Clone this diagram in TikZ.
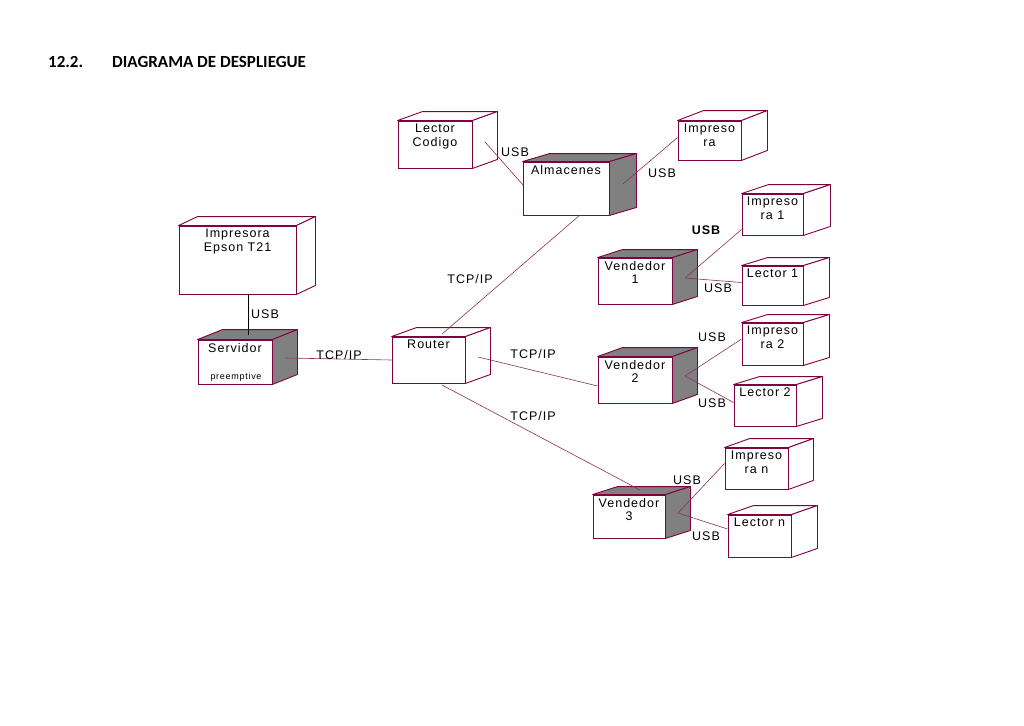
\documentclass[tikz,border=0pt]{standalone}
\usepackage{fontspec}
\setmainfont{Liberation Sans}
\newfontfamily\hdfont{Carlito}
\newfontfamily\spfont[LetterSpace=8]{Liberation Sans}
\usetikzlibrary{calc}
\definecolor{edgec}{HTML}{800040}
\definecolor{linec}{HTML}{8A3060}
\definecolor{sidec}{HTML}{808080}
\tikzset{
  depbox/.style={draw=edgec, line width=0.9pt, fill=white, inner sep=0pt},
  depface/.style={draw=edgec, line width=0.9pt, line join=round},
  deptext/.style={font=\spfont\fontsize{12.5}{13.5}\selectfont, align=center, inner sep=0pt},
  conn/.style={draw=linec, line width=0.6pt},
  clabel/.style={font=\spfont\fontsize{12.5}{13.5}\selectfont, inner sep=0pt},
}
% #1 name, #2 x1, #3 y1, #4 x2, #5 y2, #6 dx, #7 dy, #8 face fill, #9 text
\newcommand\depnode[9]{%
  \node[depbox, minimum width={#4-#2}, minimum height={#5-#3}] (#1) at ({(#2+#4)/2},{(#3+#5)/2}) {};
  \draw[depface, fill=#8] (#1.north west) -- ++(#6,#7) -- ([shift={(#6,#7)}]#1.north east) -- (#1.north east) -- cycle;
  \draw[depface, fill=#8] (#1.north east) -- ([shift={(#6,#7)}]#1.north east) -- ([shift={(#6,#7)}]#1.south east) -- (#1.south east) -- cycle;
  \node[deptext, anchor=north] (#1-t) at ([yshift=-3.5pt]#1.north) {#9};
}
\begin{document}
\begin{tikzpicture}[x=1pt,y=-1pt]
\useasboundingbox[fill=white] (0,0) rectangle (1024,725);
% header
\node[font=\hdfont\bfseries\fontsize{17}{20}\selectfont, anchor=west, inner sep=0pt] (hnum) at (48,62) {12.2.};
\node[font=\hdfont\bfseries\fontsize{17}{20}\selectfont, anchor=west, inner sep=0pt] (htitle) at (112,62) {DIAGRAMA DE DESPLIEGUE};

% nodes
\depnode{epson}{179}{226}{296}{294}{19}{-9}{white}{Impresora\\Epson T21}
\depnode{serv}{198}{340}{272}{384}{25}{-10}{sidec}{Servidor}
\node[font=\spfont\fontsize{9}{10}\selectfont, inner sep=0pt] (serv-p) at (236,377) {preemptive};
\depnode{lcod}{398}{121}{472}{168}{25}{-9}{white}{Lector\\Codigo}
\depnode{alm}{523}{162}{609}{215}{27}{-8}{sidec}{Almacenes}
\depnode{imp}{678}{121}{741}{160}{26}{-10}{white}{Impreso\\ra}
\depnode{router}{392}{337}{465}{383}{25}{-9}{white}{Router}
\depnode{v1}{598}{258}{672}{304}{25}{-8}{sidec}{Vendedor\\1}
\depnode{i1}{742}{194}{803}{235}{27}{-9}{white}{Impreso\\ra 1}
\depnode{l1}{742}{266}{803}{305}{26}{-8}{white}{Lector 1}
\depnode{v2}{598}{357}{672}{403}{25}{-9}{sidec}{Vendedor\\2}
\depnode{i2}{742}{323}{803}{365}{26}{-8}{white}{Impreso\\ra 2}
\depnode{l2}{734}{385}{796}{426}{26}{-8}{white}{Lector 2}
\depnode{v3}{593}{495}{665}{538}{25}{-8}{sidec}{Vendedor\\3}
\depnode{in}{725}{448}{788}{489}{25}{-9}{white}{Impreso\\ra n}
\depnode{ln}{728}{515}{791}{557}{26}{-9}{white}{Lector n}

% black connector epson-servidor
\coordinate (servtop) at (248,335);
\draw[black, line width=0.7pt] (epson.south -| servtop) -- (servtop);
\node[clabel] (usb0) at (265,314) {USB};

% connector end points
\coordinate (servp) at ($(serv.east)+(13,-4)$);
\coordinate (rtop) at (442,334);
\coordinate (rside) at (478,357);
\coordinate (rbot) at (442,385);
\coordinate (almbot) at (580,215);
\coordinate (almside) at (623,184);
\coordinate (lcodp) at (485,142);
\coordinate (almw) at (523,185);
\coordinate (v1p) at (685,278);
\coordinate (v2p) at (685,376);
\coordinate (v3p) at (678,513);
\coordinate (v3top) at (640,490);

\draw[conn] (servp) -- (router.west);
\node[clabel] (tcp0) at (339,355) {TCP/IP};
\draw[conn] (rtop) -- (almbot);
\node[clabel] (tcp1) at (470,279) {TCP/IP};
\draw[conn] (rside) -- ([yshift=-6pt]v2.west);
\node[clabel] (tcp2) at (533,354) {TCP/IP};
\draw[conn] (rbot) -- (v3top);
\node[clabel] (tcp3) at (533,416) {TCP/IP};

\draw[conn] (lcodp) -- (almw);
\node[clabel] (usb1) at (515,152) {USB};
\draw[conn] (almside) -- ([yshift=3pt]imp.west);
\node[clabel] (usb2) at (662,173) {USB};

\draw[conn] (v1p) -- ([yshift=-15pt]i1.west);
\node[clabel, font=\spfont\bfseries\fontsize{12.5}{13.5}\selectfont] (usb3) at (706,230) {USB};
\draw[conn] (v1p) -- ([yshift=3pt]l1.west);
\node[clabel] (usb4) at (718,288) {USB};

\draw[conn] (v2p) -- ([yshift=5pt]i2.west);
\node[clabel] (usb5) at (712,337) {USB};
\draw[conn] (v2p) -- ([yshift=3pt]l2.west);
\node[clabel] (usb6) at (712,403) {USB};

\draw[conn] (v3p) -- ([yshift=5pt]in.west);
\node[clabel] (usb7) at (687,480) {USB};
\draw[conn] (v3p) -- ([yshift=7pt]ln.west);
\node[clabel] (usb8) at (706,536) {USB};
\end{tikzpicture}
\end{document}
